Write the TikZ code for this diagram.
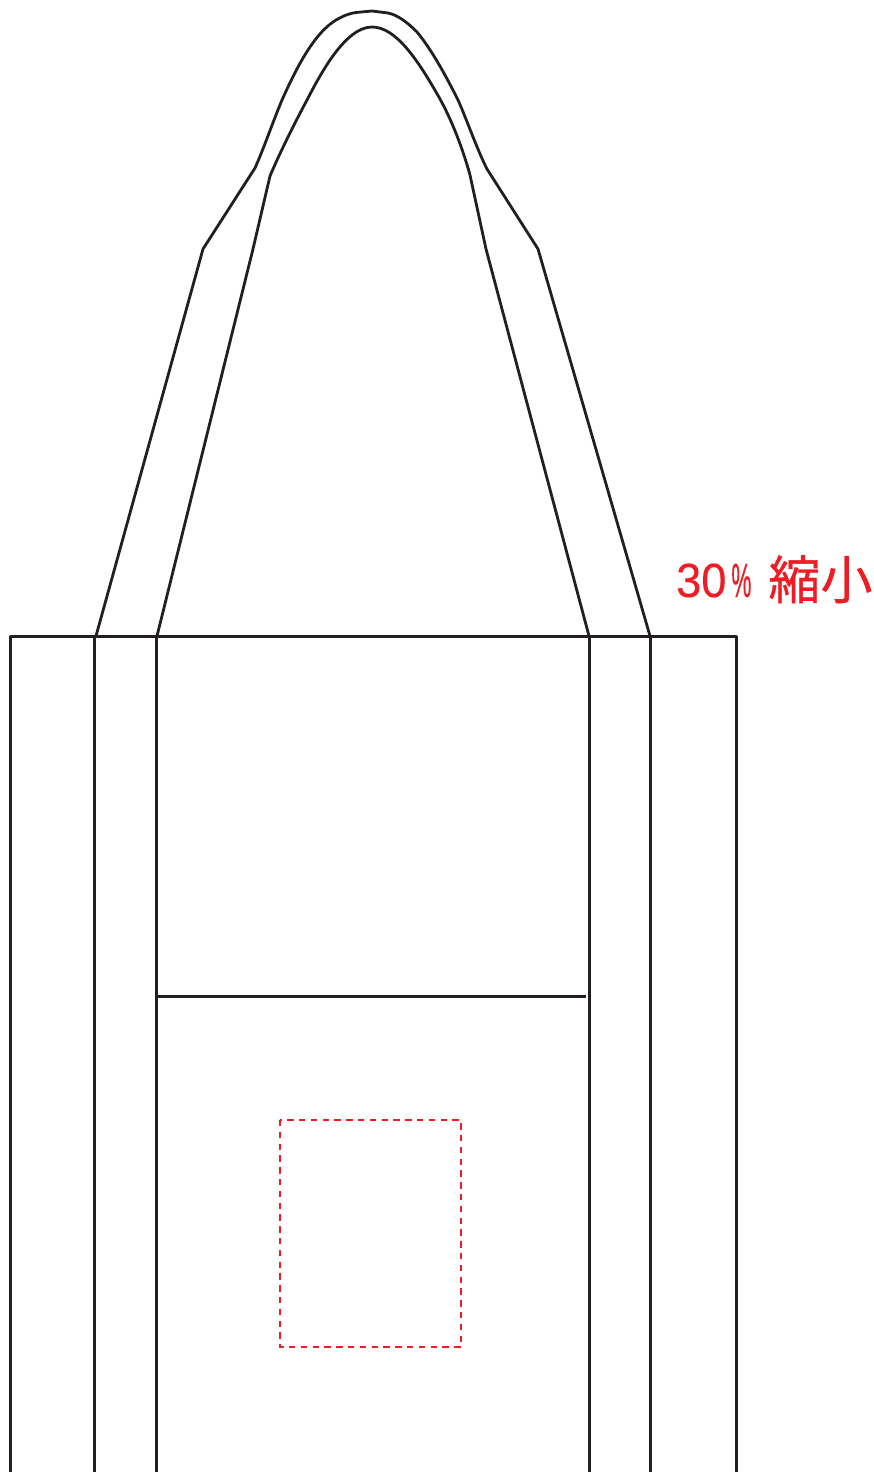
\documentclass[tikz,border=0pt]{standalone}
\usepackage{fontspec}
\newfontfamily\cjk[FakeBold=0.6]{Noto Sans CJK JP}
\newfontfamily\latin[FakeBold=0.3]{Liberation Sans}
\definecolor{bagline}{HTML}{231F20}
\definecolor{redmark}{HTML}{EE1C25}
\begin{document}
\begin{tikzpicture}[x=1pt,y=-1pt,
  bagstroke/.style={draw=bagline,line width=2.8pt,line join=round},
  printarea/.style={draw=redmark,line width=2pt,dash pattern=on 6.4pt off 5.4pt},
  label/.style={text=redmark,inner sep=0pt,anchor=base west}]
\useasboundingbox (0,0) rectangle (874,1472);
\begin{scope}
\clip (0,0) rectangle (874,1472);
% bag body
\draw[bagstroke] (10.5,1480) -- (10.5,636.5) -- (736.5,636.5) -- (736.5,1480);
\draw[bagstroke] (94.5,636) -- (94.5,1480);
\draw[bagstroke] (156.5,636) -- (156.5,1480);
\draw[bagstroke] (589.5,636) -- (589.5,1480);
\draw[bagstroke] (650.5,636) -- (650.5,1480);
\draw[bagstroke] (157,996.5) -- (585.5,996.5);
% handle, outer edge
\draw[bagstroke] (96,636) -- (203,249) -- (255,168)
  .. controls (264,148) and (272,124) .. (282,100)
  .. controls (292,78) and (310,38) .. (333,22)
  .. controls (341,16.5) and (349,13.5) .. (356,12.5)
  -- (372,11) -- (388,13)
  .. controls (398,15) and (408,23) .. (417,32)
  .. controls (432,50) and (447,78) .. (458,100)
  .. controls (467,120) and (476,147) .. (487,169)
  -- (538,249) -- (650,636);
% handle, inner edge
\draw[bagstroke] (157,636) -- (253,249) -- (270,176)
  .. controls (278,157) and (292,128) .. (307,100)
  .. controls (320,75) and (345,27) .. (372,27)
  .. controls (396,27) and (418,60) .. (440,99)
  .. controls (451,119) and (462,146) .. (470,175)
  -- (486,249) -- (589,636);
% print area
\draw[printarea] (280,1120) rectangle (461,1347);
\end{scope}
\node[label] (caption) at (676,597) {\latin\fontsize{48}{48}\selectfont\scalebox{0.94}[1]{30}\hspace{5pt}\scalebox{0.47}[1]{\%}\hspace{17pt}\raisebox{-2pt}{\cjk\fontsize{52}{52}\selectfont 縮小}};
\end{tikzpicture}
\end{document}
